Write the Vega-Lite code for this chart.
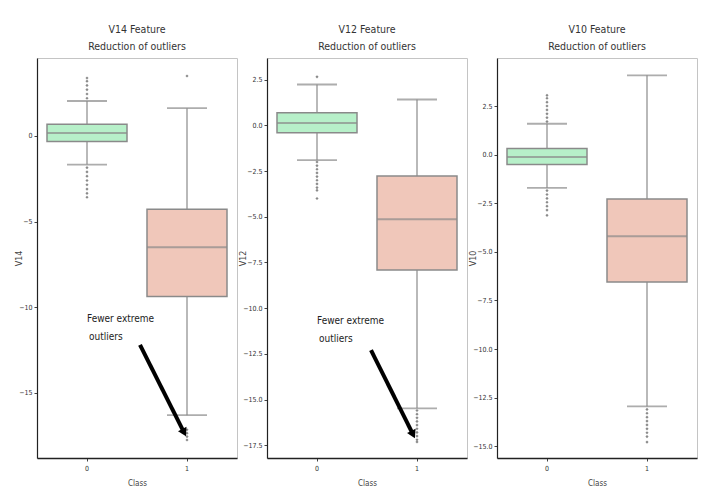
{
  "$schema": "https://vega.github.io/schema/vega-lite/v6.json",
  "background": "white",
  "padding": {"left": 14, "top": 24, "right": 5, "bottom": 5},
  "spacing": 0,
  "config": {
    "font": "DejaVu Sans Condensed, Liberation Sans Narrow, Roboto Condensed, Roboto, sans-serif",
    "view": {"stroke": "#c4c4c4", "strokeWidth": 1},
    "axis": {"grid": false, "domainColor": "#222222", "tickColor": "#444444", "labelFontSize": 7, "labelColor": "#333333", "titleFontSize": 8, "titleFontWeight": "normal", "titleColor": "#444444", "tickSize": 3, "labelPadding": 2},
    "axisX": {"domainWidth": 1.6, "labelAngle": 0, "labelPadding": 3, "titlePadding": 8},
    "axisY": {"domainWidth": 1.2, "titleFont": "DejaVu Sans", "titlePadding": 2, "minExtent": 18, "maxExtent": 18},
    "title": {"fontSize": 10.5, "fontWeight": "normal", "lineHeight": 17, "color": "#333333", "offset": 6}
  },
  "datasets": {
    "stats_v14": [
      {"Class": "0", "lower": -1.67, "q1": -0.33, "median": 0.17, "q3": 0.68, "upper": 2.04},
      {"Class": "1", "lower": -16.3, "q1": -9.37, "median": -6.5, "q3": -4.28, "upper": 1.62}
    ],
    "out_v14": [
      {"Class": "0", "value": 2.2}, {"Class": "0", "value": 2.45}, {"Class": "0", "value": 2.7}, {"Class": "0", "value": 2.95}, {"Class": "0", "value": 3.2}, {"Class": "0", "value": 3.38},
      {"Class": "0", "value": -1.85}, {"Class": "0", "value": -2.1}, {"Class": "0", "value": -2.35}, {"Class": "0", "value": -2.6}, {"Class": "0", "value": -2.85}, {"Class": "0", "value": -3.1}, {"Class": "0", "value": -3.35}, {"Class": "0", "value": -3.58},
      {"Class": "1", "value": 3.5},
      {"Class": "1", "value": -17.15}, {"Class": "1", "value": -17.35}, {"Class": "1", "value": -17.55}, {"Class": "1", "value": -17.75}
    ],
    "text_v14": [
      {"x": 0.0, "y": -10.7, "label": "Fewer extreme"},
      {"x": 0.02, "y": -11.75, "label": "outliers"}
    ],
    "arrow_v14": [
      {"x": 0.53, "y": -12.2, "x2": 0.965, "y2": -17.25}
    ],
    "stats_v12": [
      {"Class": "0", "lower": -1.9, "q1": -0.4, "median": 0.13, "q3": 0.69, "upper": 2.24},
      {"Class": "1", "lower": -15.48, "q1": -7.91, "median": -5.14, "q3": -2.77, "upper": 1.42}
    ],
    "out_v12": [
      {"Class": "0", "value": 2.66},
      {"Class": "0", "value": -2.0}, {"Class": "0", "value": -2.2}, {"Class": "0", "value": -2.4}, {"Class": "0", "value": -2.6}, {"Class": "0", "value": -2.8}, {"Class": "0", "value": -3.0}, {"Class": "0", "value": -3.2}, {"Class": "0", "value": -3.4}, {"Class": "0", "value": -3.55}, {"Class": "0", "value": -4.0},
      {"Class": "1", "value": -15.6}, {"Class": "1", "value": -15.8}, {"Class": "1", "value": -16.0}, {"Class": "1", "value": -16.2}, {"Class": "1", "value": -16.4}, {"Class": "1", "value": -16.6}, {"Class": "1", "value": -16.8}, {"Class": "1", "value": -17.0}, {"Class": "1", "value": -17.2}, {"Class": "1", "value": -17.32}
    ],
    "text_v12": [
      {"x": 0.0, "y": -10.7, "label": "Fewer extreme"},
      {"x": 0.02, "y": -11.7, "label": "outliers"}
    ],
    "arrow_v12": [
      {"x": 0.54, "y": -12.3, "x2": 0.955, "y2": -16.85}
    ],
    "stats_v10": [
      {"Class": "0", "lower": -1.71, "q1": -0.51, "median": -0.12, "q3": 0.31, "upper": 1.59},
      {"Class": "1", "lower": -12.95, "q1": -6.55, "median": -4.2, "q3": -2.28, "upper": 4.08}
    ],
    "out_v10": [
      {"Class": "0", "value": 1.7}, {"Class": "0", "value": 1.9}, {"Class": "0", "value": 2.1}, {"Class": "0", "value": 2.3}, {"Class": "0", "value": 2.5}, {"Class": "0", "value": 2.7}, {"Class": "0", "value": 2.9}, {"Class": "0", "value": 3.05},
      {"Class": "0", "value": -1.85}, {"Class": "0", "value": -2.05}, {"Class": "0", "value": -2.25}, {"Class": "0", "value": -2.45}, {"Class": "0", "value": -2.65}, {"Class": "0", "value": -2.85}, {"Class": "0", "value": -3.12},
      {"Class": "1", "value": -13.1}, {"Class": "1", "value": -13.3}, {"Class": "1", "value": -13.5}, {"Class": "1", "value": -13.7}, {"Class": "1", "value": -13.9}, {"Class": "1", "value": -14.1}, {"Class": "1", "value": -14.3}, {"Class": "1", "value": -14.5}, {"Class": "1", "value": -14.78}
    ]
  },
  "hconcat": [
    {
      "width": 200, "height": 400,
      "title": {"text": ["V14 Feature", "Reduction of outliers"]},
      "resolve": {"scale": {"x": "independent"}, "axis": {"x": "independent"}},
      "layer": [
        {
          "encoding": {
            "x": {"field": "Class", "type": "nominal", "scale": {"paddingInner": 0, "paddingOuter": 0}, "axis": {"title": "Class"}}
          },
          "layer": [
            {"data": {"name": "stats_v14"}, "mark": {"type": "rule", "color": "#8a8a8a", "strokeWidth": 1.2},
             "encoding": {"y": {"field": "lower", "type": "quantitative", "scale": {"domain": [-18.8, 4.55], "nice": false, "zero": false}, "axis": {"title": "V14", "values": [0, -5, -10, -15], "format": "d", "minExtent": 12, "maxExtent": 12}}, "y2": {"field": "upper"}}},
            {"data": {"name": "stats_v14"}, "mark": {"type": "tick", "color": "#8a8a8a", "size": 40, "thickness": 1.8},
             "encoding": {"y": {"field": "lower", "type": "quantitative"}}},
            {"data": {"name": "stats_v14"}, "mark": {"type": "tick", "color": "#8a8a8a", "size": 40, "thickness": 1.8},
             "encoding": {"y": {"field": "upper", "type": "quantitative"}}},
            {"data": {"name": "stats_v14"}, "mark": {"type": "bar", "size": 80, "stroke": "#8a8a8a", "strokeWidth": 1.5, "opacity": 1},
             "encoding": {"y": {"field": "q1", "type": "quantitative"}, "y2": {"field": "q3"},
                          "color": {"field": "Class", "type": "nominal", "scale": {"domain": ["0", "1"], "range": ["#b7f0c9", "#f0c7ba"]}, "legend": null}}},
            {"data": {"name": "stats_v14"}, "mark": {"type": "tick", "color": "#8a8a8a", "size": 80, "thickness": 2},
             "encoding": {"y": {"field": "median", "type": "quantitative"}}},
            {"data": {"name": "out_v14"}, "mark": {"type": "point", "shape": "diamond", "filled": true, "size": 10, "color": "#8a8a8a", "opacity": 1},
             "encoding": {"y": {"field": "value", "type": "quantitative"}}}
          ]
        },
        {
          "data": {"name": "text_v14"},
          "mark": {"type": "text", "align": "left", "baseline": "middle", "fontSize": 10, "color": "#222222"},
          "encoding": {
            "x": {"field": "x", "type": "quantitative", "scale": {"domain": [-0.5, 1.5], "nice": false, "zero": false}, "axis": null},
            "y": {"field": "y", "type": "quantitative"},
            "text": {"field": "label"}
          }
        },
        {
          "data": {"name": "arrow_v14"},
          "mark": {"type": "rule", "color": "#000000", "strokeWidth": 4},
          "encoding": {
            "x": {"field": "x", "type": "quantitative", "scale": {"domain": [-0.5, 1.5], "nice": false, "zero": false}, "axis": null},
            "y": {"field": "y", "type": "quantitative"},
            "x2": {"field": "x2"}, "y2": {"field": "y2"}
          }
        },
        {
          "data": {"name": "arrow_v14"},
          "mark": {"type": "point", "shape": "triangle", "filled": true, "color": "#000000", "size": 90, "angle": 153, "opacity": 1},
          "encoding": {
            "x": {"field": "x2", "type": "quantitative", "scale": {"domain": [-0.5, 1.5], "nice": false, "zero": false}, "axis": null},
            "y": {"field": "y2", "type": "quantitative"}
          }
        }
      ]
    },
    {
      "width": 200, "height": 400,
      "title": {"text": ["V12 Feature", "Reduction of outliers"]},
      "resolve": {"scale": {"x": "independent"}, "axis": {"x": "independent"}},
      "layer": [
        {
          "encoding": {
            "x": {"field": "Class", "type": "nominal", "scale": {"paddingInner": 0, "paddingOuter": 0}, "axis": {"title": "Class"}}
          },
          "layer": [
            {"data": {"name": "stats_v12"}, "mark": {"type": "rule", "color": "#8a8a8a", "strokeWidth": 1.2},
             "encoding": {"y": {"field": "lower", "type": "quantitative", "scale": {"domain": [-18.2, 3.69], "nice": false, "zero": false}, "axis": {"title": "V12", "values": [2.5, 0, -2.5, -5, -7.5, -10, -12.5, -15, -17.5], "format": ".1f"}}, "y2": {"field": "upper"}}},
            {"data": {"name": "stats_v12"}, "mark": {"type": "tick", "color": "#8a8a8a", "size": 40, "thickness": 1.8},
             "encoding": {"y": {"field": "lower", "type": "quantitative"}}},
            {"data": {"name": "stats_v12"}, "mark": {"type": "tick", "color": "#8a8a8a", "size": 40, "thickness": 1.8},
             "encoding": {"y": {"field": "upper", "type": "quantitative"}}},
            {"data": {"name": "stats_v12"}, "mark": {"type": "bar", "size": 80, "stroke": "#8a8a8a", "strokeWidth": 1.5, "opacity": 1},
             "encoding": {"y": {"field": "q1", "type": "quantitative"}, "y2": {"field": "q3"},
                          "color": {"field": "Class", "type": "nominal", "scale": {"domain": ["0", "1"], "range": ["#b7f0c9", "#f0c7ba"]}, "legend": null}}},
            {"data": {"name": "stats_v12"}, "mark": {"type": "tick", "color": "#8a8a8a", "size": 80, "thickness": 2},
             "encoding": {"y": {"field": "median", "type": "quantitative"}}},
            {"data": {"name": "out_v12"}, "mark": {"type": "point", "shape": "diamond", "filled": true, "size": 10, "color": "#8a8a8a", "opacity": 1},
             "encoding": {"y": {"field": "value", "type": "quantitative"}}}
          ]
        },
        {
          "data": {"name": "text_v12"},
          "mark": {"type": "text", "align": "left", "baseline": "middle", "fontSize": 10, "color": "#222222"},
          "encoding": {
            "x": {"field": "x", "type": "quantitative", "scale": {"domain": [-0.5, 1.5], "nice": false, "zero": false}, "axis": null},
            "y": {"field": "y", "type": "quantitative"},
            "text": {"field": "label"}
          }
        },
        {
          "data": {"name": "arrow_v12"},
          "mark": {"type": "rule", "color": "#000000", "strokeWidth": 4},
          "encoding": {
            "x": {"field": "x", "type": "quantitative", "scale": {"domain": [-0.5, 1.5], "nice": false, "zero": false}, "axis": null},
            "y": {"field": "y", "type": "quantitative"},
            "x2": {"field": "x2"}, "y2": {"field": "y2"}
          }
        },
        {
          "data": {"name": "arrow_v12"},
          "mark": {"type": "point", "shape": "triangle", "filled": true, "color": "#000000", "size": 90, "angle": 154, "opacity": 1},
          "encoding": {
            "x": {"field": "x2", "type": "quantitative", "scale": {"domain": [-0.5, 1.5], "nice": false, "zero": false}, "axis": null},
            "y": {"field": "y2", "type": "quantitative"}
          }
        }
      ]
    },
    {
      "width": 200, "height": 400,
      "title": {"text": ["V10 Feature", "Reduction of outliers"]},
      "encoding": {
        "x": {"field": "Class", "type": "nominal", "scale": {"paddingInner": 0, "paddingOuter": 0}, "axis": {"title": "Class"}}
      },
      "layer": [
        {"data": {"name": "stats_v10"}, "mark": {"type": "rule", "color": "#8a8a8a", "strokeWidth": 1.2},
         "encoding": {"y": {"field": "lower", "type": "quantitative", "scale": {"domain": [-15.6, 4.97], "nice": false, "zero": false}, "axis": {"title": "V10", "values": [2.5, 0, -2.5, -5, -7.5, -10, -12.5, -15], "format": ".1f"}}, "y2": {"field": "upper"}}},
        {"data": {"name": "stats_v10"}, "mark": {"type": "tick", "color": "#8a8a8a", "size": 40, "thickness": 1.8},
         "encoding": {"y": {"field": "lower", "type": "quantitative"}}},
        {"data": {"name": "stats_v10"}, "mark": {"type": "tick", "color": "#8a8a8a", "size": 40, "thickness": 1.8},
         "encoding": {"y": {"field": "upper", "type": "quantitative"}}},
        {"data": {"name": "stats_v10"}, "mark": {"type": "bar", "size": 80, "stroke": "#8a8a8a", "strokeWidth": 1.5, "opacity": 1},
         "encoding": {"y": {"field": "q1", "type": "quantitative"}, "y2": {"field": "q3"},
                      "color": {"field": "Class", "type": "nominal", "scale": {"domain": ["0", "1"], "range": ["#b7f0c9", "#f0c7ba"]}, "legend": null}}},
        {"data": {"name": "stats_v10"}, "mark": {"type": "tick", "color": "#8a8a8a", "size": 80, "thickness": 2},
         "encoding": {"y": {"field": "median", "type": "quantitative"}}},
        {"data": {"name": "out_v10"}, "mark": {"type": "point", "shape": "diamond", "filled": true, "size": 10, "color": "#8a8a8a", "opacity": 1},
         "encoding": {"y": {"field": "value", "type": "quantitative"}}}
      ]
    }
  ]
}
